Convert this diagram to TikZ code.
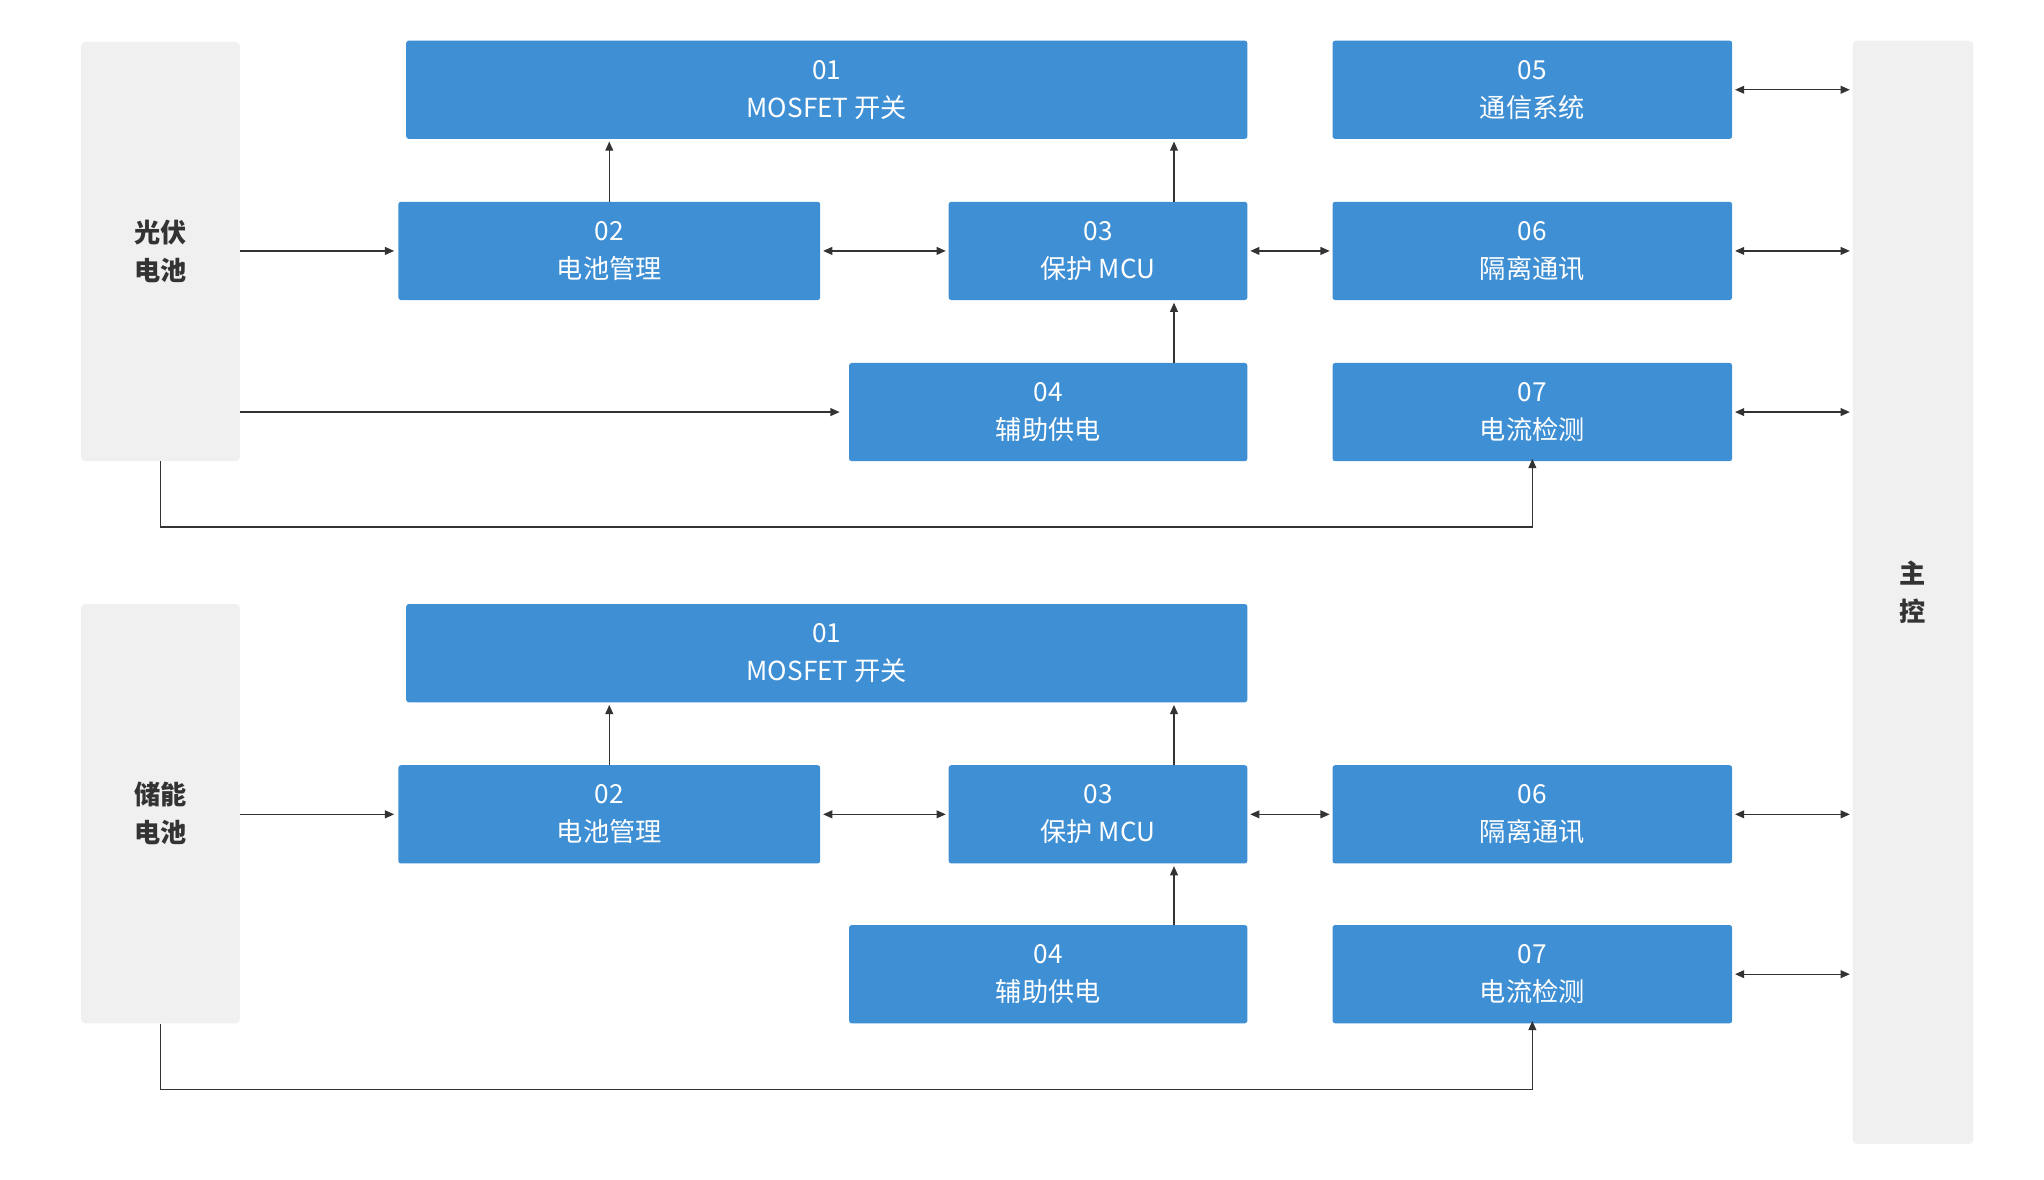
\documentclass[tikz,border=0pt]{standalone}
\usepackage{fontspec}
\setmainfont{Noto Sans CJK SC}
\usetikzlibrary{arrows.meta}
\definecolor{bl}{HTML}{3F8FD4}
\definecolor{gr}{HTML}{F0F0F0}
\definecolor{dk}{HTML}{333333}
\begin{document}
\begin{tikzpicture}[x=1pt,y=-1pt,
 b/.style={fill=bl,draw=none,rounded corners=2pt,text=white,align=center,font=\fontsize{20}{29}\selectfont},
 g/.style={fill=gr,draw=none,rounded corners=3pt,text=dk,align=center,font=\fontsize{20}{29}\selectfont\bfseries},
 a/.style={draw=dk,line width=0.9pt,-{Triangle[length=7pt,width=6pt]}},
 aa/.style={draw=dk,line width=0.9pt,{Triangle[length=7pt,width=6pt]}-{Triangle[length=7pt,width=6pt]}}]
\useasboundingbox (0,0) rectangle (1560,900);
\newcommand{\bx}[6]{\node[#6,minimum width=#3-#1,minimum height=#4-#2,inner sep=0] (#5) at ({(#1+#3)/2},{(#2+#4)/2})}
\bx{62}{32}{183}{352}{pv}{g} {光伏\\电池};
\bx{62}{461}{183}{781}{st}{g} {储能\\电池};
\bx{1414}{31}{1506}{873}{mc}{g} {主\\控};
% top
\bx{310}{31}{952}{106}{a1}{b} {01\\MOSFET 开关};
\bx{1017}{31}{1322}{106}{a5}{b} {05\\通信系统};
\bx{304}{154}{626}{229}{a2}{b} {02\\电池管理};
\bx{724}{154}{952}{229}{a3}{b} {03\\保护 MCU};
\bx{1017}{154}{1322}{229}{a6}{b} {06\\隔离通讯};
\bx{648}{277}{952}{352}{a4}{b} {04\\辅助供电};
\bx{1017}{277}{1322}{352}{a7}{b} {07\\电流检测};
% bottom
\bx{310}{461}{952}{536}{b1}{b} {01\\MOSFET 开关};
\bx{304}{584}{626}{659}{b2}{b} {02\\电池管理};
\bx{724}{584}{952}{659}{b3}{b} {03\\保护 MCU};
\bx{1017}{584}{1322}{659}{b6}{b} {06\\隔离通讯};
\bx{648}{706}{952}{781}{b4}{b} {04\\辅助供电};
\bx{1017}{706}{1322}{781}{b7}{b} {07\\电流检测};
% top arrows
\draw[a] (pv.east|-a2) -- ([xshift=-3pt]a2.west);
\draw[a] (pv.east|-a4) -- ([xshift=-7pt]a4.west);
\draw[a] ([xshift=-343pt]pv.south) -- ++(0,0);
\draw[a] (pv.south) -- ++(0,50) -| ([yshift=2pt]a7.south);
\draw[a] (a2.north-|465,0) ++(0,0) -- ([yshift=-2pt]465,106);
\draw[a] (896,154) -- (896,108);
\draw[a] (896,277) -- (896,231);
\draw[aa] ([xshift=2pt]a2.east) -- ([xshift=-2pt]a3.west);
\draw[aa] ([xshift=2pt]a3.east) -- ([xshift=-2pt]a6.west);
\draw[aa] ([xshift=2pt]a5.east) -- ([xshift=-2pt]a5.east-|mc.west);
\draw[aa] ([xshift=2pt]a6.east) -- ([xshift=-2pt]a6.east-|mc.west);
\draw[aa] ([xshift=2pt]a7.east) -- ([xshift=-2pt]a7.east-|mc.west);
% bottom arrows
\draw[a] (st.east|-b2) -- ([xshift=-3pt]b2.west);
\draw[a] (st.south) -- ++(0,50) -| ([yshift=2pt]b7.south);
\draw[a] (465,584) -- (465,538);
\draw[a] (896,584) -- (896,538);
\draw[a] (896,706) -- (896,661);
\draw[aa] ([xshift=2pt]b2.east) -- ([xshift=-2pt]b3.west);
\draw[aa] ([xshift=2pt]b3.east) -- ([xshift=-2pt]b6.west);
\draw[aa] ([xshift=2pt]b6.east) -- ([xshift=-2pt]b6.east-|mc.west);
\draw[aa] ([xshift=2pt]b7.east) -- ([xshift=-2pt]b7.east-|mc.west);
\end{tikzpicture}
\end{document}
